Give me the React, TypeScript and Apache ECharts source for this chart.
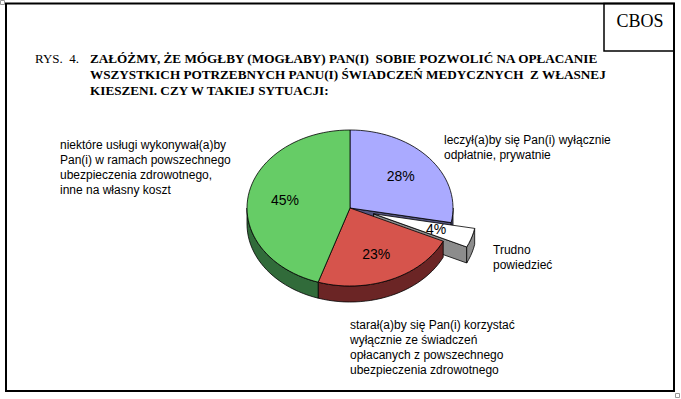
import React, { useEffect, useRef } from "react";
import * as echarts from "echarts";

const categories = [
  "leczył(a)by się Pan(i) wyłącznie\nodpłatnie, prywatnie",
  "Trudno\npowiedzieć",
  "starał(a)by się Pan(i) korzystać\nwyłącznie ze świadczeń\nopłacanych z powszechnego\nubezpieczenia zdrowotnego",
  "niektóre usługi wykonywał(a)by\nPan(i) w ramach powszechnego\nubezpieczenia zdrowotnego,\ninne na własny koszt",
];
const values = [28, 4, 23, 45];
const valueLabels = ["28%", "4%", "23%", "45%"];

const titleLines = [
  "ZAŁÓŻMY, ŻE MÓGŁBY (MOGŁABY) PAN(I)  SOBIE POZWOLIĆ NA OPŁACANIE",
  "WSZYSTKICH POTRZEBNYCH PANU(I) ŚWIADCZEŃ MEDYCZNYCH  Z WŁASNEJ",
  "KIESZENI. CZY W TAKIEJ SYTUACJI:",
];

const topColors = ["#aaaaff", "#ffffff", "#d6544c", "#66cc66"];
const sideColors = ["#55557f", "#8c8c8c", "#6b2525", "#316b3a"];
const explode = [0, 0.24, 0, 0];
const labelPos = [
  { x: 444, y: 132.5 },
  { x: 493, y: 242.5 },
  { x: 350, y: 317.5 },
  { x: 60, y: 137.5 },
];

const CX = 350;
const CY = 208;
const RX = 103;
const RY = 78;
const DEPTH = 16;

export default function App() {
  const ref = useRef<HTMLDivElement>(null);
  useEffect(() => {
    if (!ref.current) return;
    const chart = echarts.init(ref.current, null, { renderer: "svg" });
    const total = values.reduce((a, b) => a + b, 0);
    const starts: number[] = [];
    let acc = 0;
    values.forEach((v) => {
      starts.push(acc);
      acc += v;
    });

    const renderItem = (params: any, api: any) => {
      const i = params.dataIndex;
      const v = api.value(0);
      const a0 = (starts[i] / total) * Math.PI * 2;
      const a1 = a0 + (v / total) * Math.PI * 2;
      const mid = (a0 + a1) / 2;
      const ex = explode[i];
      const ox = ex * RX * Math.sin(mid);
      const oy = -ex * RY * Math.cos(mid);
      const pt = (t: number, down: number, f = 1) => [
        CX + ox + f * RX * Math.sin(t),
        CY + oy - f * RY * Math.cos(t) + down,
      ];
      const arc = (s: number, e: number, down: number) => {
        const n = Math.max(2, Math.ceil(((e - s) / (Math.PI * 2)) * 120));
        const pts: number[][] = [];
        for (let k = 0; k <= n; k++) pts.push(pt(s + ((e - s) * k) / n, down));
        return pts;
      };
      const children: any[] = [];
      const stroke = { stroke: "#000", lineWidth: 0.8, lineJoin: "round" };
      const isWhite = i === 1;
      const baseZ = isWhite ? 0 : 3;
      const face = (t: number, z: number) => {
        const c0 = [CX + ox, CY + oy];
        const c1 = [CX + ox, CY + oy + DEPTH];
        children.push({
          type: "polygon",
          z2: z,
          shape: { points: [c0, pt(t, 0), pt(t, DEPTH), c1] },
          style: { fill: sideColors[i], ...stroke },
        });
      };
      if (i === 0) face(a1, 0);
      if (isWhite) face(a1, 1);
      const ws = Math.max(a0, Math.PI / 2);
      const we = Math.min(a1, (Math.PI * 3) / 2);
      if (we > ws) {
        const top = arc(ws, we, 0);
        const bot = arc(ws, we, DEPTH).reverse();
        children.push({
          type: "polygon",
          z2: isWhite ? 1 : i === 0 ? 0 : baseZ,
          shape: { points: top.concat(bot) },
          style: { fill: sideColors[i], ...stroke },
        });
      }
      children.push({
        type: "polygon",
        z2: isWhite ? 2 : 4,
        shape: { points: [[CX + ox, CY + oy]].concat(arc(a0, a1, 0)) },
        style: { fill: topColors[i], ...stroke },
      });
      const lp = pt(mid, 0, 0.64);
      children.push({
        type: "text",
        z2: 10,
        style: {
          text: valueLabels[i],
          x: lp[0],
          y: lp[1],
          align: "center",
          verticalAlign: "middle",
          fill: "#000",
          font: "14px 'Liberation Sans', Arial, sans-serif",
        },
      });
      return { type: "group", children };
    };

    const catText = (i: number) => ({
      type: "text",
      left: labelPos[i].x,
      top: labelPos[i].y,
      style: {
        text: categories[i],
        fill: "#000",
        font: "12px 'Liberation Sans', Arial, sans-serif",
        lineHeight: 15,
      },
    });

    chart.setOption({
      animation: false,
      backgroundColor: "#ffffff",
      graphic: [
        {
          type: "rect",
          shape: { x: 0.5, y: 0.5, width: 4, height: 4 },
          style: { fill: "none", stroke: "#999", lineWidth: 1 },
        },
        {
          type: "rect",
          shape: { x: 675.5, y: 393.5, width: 4, height: 4 },
          style: { fill: "none", stroke: "#999", lineWidth: 1 },
        },
        {
          type: "rect",
          shape: { x: 6, y: 3.5, width: 668, height: 387.5 },
          style: { fill: "none", stroke: "#000", lineWidth: 2 },
        },
        {
          type: "rect",
          shape: { x: 604, y: 3.5, width: 70, height: 47.5 },
          style: { fill: "none", stroke: "#000", lineWidth: 1.5 },
        },
        {
          type: "text",
          x: 640,
          y: 21,
          style: {
            text: "CBOS",
            align: "center",
            verticalAlign: "middle",
            fill: "#000",
            font: "18px 'Liberation Serif', 'Times New Roman', serif",
          },
        },
        {
          type: "text",
          x: 35,
          y: 58,
          style: {
            text: "RYS.  4.",
            verticalAlign: "middle",
            fill: "#000",
            font: "13px 'Liberation Serif', 'Times New Roman', serif",
          },
        },
        ...titleLines.map((t, k) => ({
          type: "text",
          x: 90,
          y: 58 + k * 16,
          style: {
            text: t,
            verticalAlign: "middle",
            fill: "#000",
            font: "bold 13.2px 'Liberation Serif', 'Times New Roman', serif",
          },
        })),
        ...categories.map((_, i) => catText(i)),
      ],
      series: [
        {
          type: "custom",
          coordinateSystem: "none",
          renderItem,
          data: values.map((v, i) => ({ value: [v], name: categories[i] })),
        },
      ],
    });
    return () => chart.dispose();
  }, []);
  return (
    <div
      ref={ref}
      style={{ position: "fixed", left: 0, top: 0, width: 681, height: 399 }}
    />
  );
}
